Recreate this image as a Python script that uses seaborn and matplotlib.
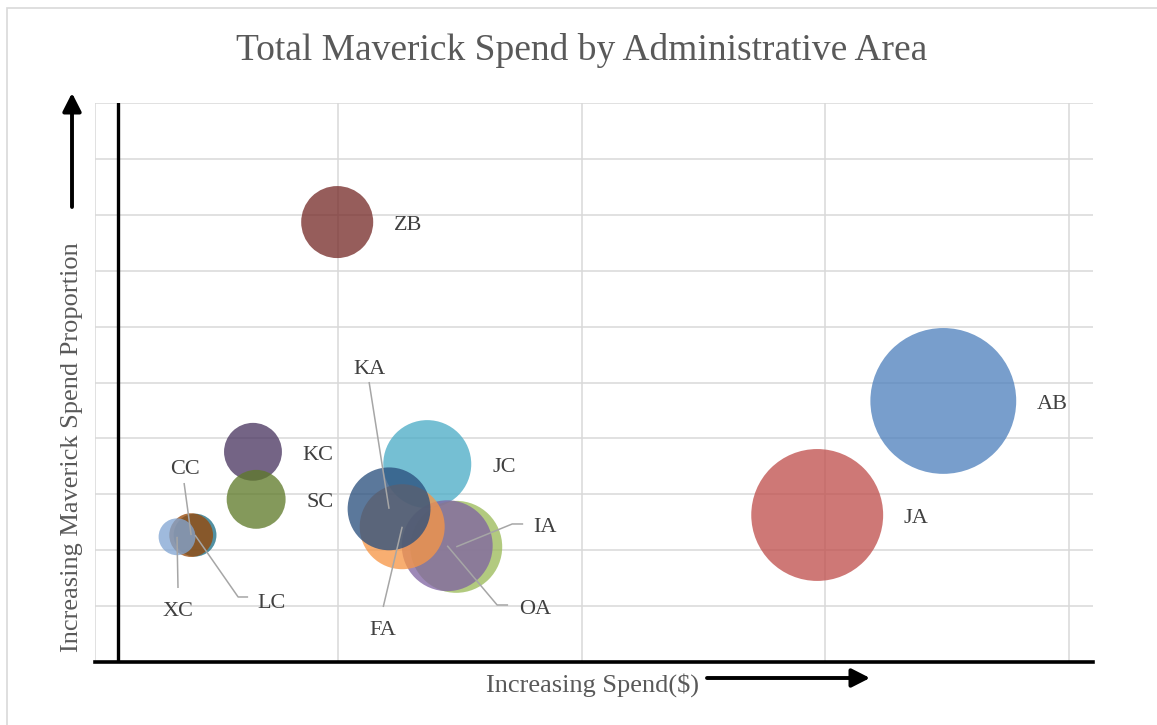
import numpy as np
import pandas as pd
import matplotlib
matplotlib.use("Agg")
import matplotlib.pyplot as plt
import seaborn as sns
from matplotlib.patches import Rectangle, FancyArrowPatch

# ---- data -------------------------------------------------------------
areas = ["AB", "JA", "ZB", "JC", "IA", "OA", "FA", "KA", "KC", "SC", "LC", "CC", "XC"]
spend = [3.485, 2.967, 0.995, 1.365, 1.484, 1.447, 1.262, 1.208, 0.649, 0.662, 0.411, 0.395, 0.337]
maverick_share = [4.67, 2.63, 7.87, 3.54, 2.06, 2.08, 2.42, 2.74, 3.76, 2.91, 2.27, 2.27, 2.24]
maverick_spend = [53.3, 43.6, 13.0, 19.4, 21.2, 20.7, 18.1, 17.2, 8.4, 8.7, 4.6, 4.8, 3.4]
colors = ["#4f81bd", "#c0504d", "#772c2a", "#4bacc6", "#9bbb59", "#8064a2", "#f79646",
          "#2a4f7d", "#4a3660", "#5f7a2a", "#1d6f86", "#984807", "#82a6d3"]

df = pd.DataFrame({"area": areas, "spend": spend, "share": maverick_share,
                   "bubble": maverick_spend})

# ---- style ------------------------------------------------------------
sns.set_theme(style="white")
plt.rcParams["font.family"] = ["Liberation Serif", "DejaVu Serif"]

W, H = 1157, 725
fig = plt.figure(figsize=(W / 100, H / 100), dpi=100)
ax = fig.add_axes([95 / W, (H - 662) / H, (1093 - 95) / W, (662 - 103) / H])

MAX_DIAM_PT = 105.0                      # diameter of the largest bubble
smax = MAX_DIAM_PT ** 2
vmax = max(maverick_spend)

sns.scatterplot(data=df, x="spend", y="share", hue="area",
                palette=dict(zip(areas, colors)), size="bubble",
                sizes=(0, smax), size_norm=(0, vmax), alpha=0.77,
                linewidth=0, legend=False, ax=ax, zorder=3)

ax.set_xlim(0, 4.1)
ax.set_ylim(0, 10)
ax.set_xticks(range(0, 5))
ax.set_yticks(range(0, 11))
ax.grid(True, color="#d9d9d9", lw=1.1)
ax.set_axisbelow(True)
ax.tick_params(length=0, labelleft=False, labelbottom=False)
ax.set_xlabel("")
ax.set_ylabel("")
for side in ("top", "right", "left"):
    ax.spines[side].set_visible(False)
ax.spines["bottom"].set_color("black")
ax.spines["bottom"].set_linewidth(2.6)
ax.axvline(0.095, color="black", lw=2.4, zorder=2)

# ---- data labels --------------------------------------------------------
label_kw = dict(fontsize=16, color="#404040")
BASELINE_SHIFT = -2.5                     # points, nudges caps to optical centre
right_labeled = ["AB", "JA", "ZB", "JC", "KC", "SC"]
for _, row in df.iterrows():
    if row["area"] in right_labeled:
        radius_pt = np.sqrt(row["bubble"] / vmax * smax) / 2
        ax.annotate(row["area"], xy=(row["spend"], row["share"]),
                    xytext=(radius_pt + 15, BASELINE_SHIFT), textcoords="offset points",
                    ha="left", va="center", zorder=5, **label_kw)

callouts = {
    "KA": ((1.126, 5.295), [(1.126, 5.009)]),
    "FA": ((1.184, 0.626), [(1.184, 0.984)]),
    "IA": ((1.850, 2.469), [(1.759, 2.469), (1.714, 2.469)]),
    "OA": ((1.808, 1.002), [(1.697, 1.020), (1.652, 1.020)]),
    "CC": ((0.370, 3.506), [(0.366, 3.202)]),
    "XC": ((0.341, 0.966), [(0.341, 1.324)]),
    "LC": ((0.727, 1.109), [(0.629, 1.163), (0.588, 1.163)]),
}
lookup = df.set_index("area")
for name, (text_pos, path) in callouts.items():
    cx, cy = lookup.loc[name, "spend"], lookup.loc[name, "share"]
    xs = [p[0] for p in path] + [cx]
    ys = [p[1] for p in path] + [cy]
    ax.plot(xs, ys, color="#a6a6a6", lw=1.1, zorder=4, solid_capstyle="butt")
    ax.annotate(name, xy=text_pos, xytext=(0, BASELINE_SHIFT),
                textcoords="offset points", ha="center", va="center",
                zorder=5, **label_kw)

# ---- titles, axis captions and direction arrows --------------------------
fig.text(582 / W, 1 - 51 / H, "Total Maverick Spend by Administrative Area",
         ha="center", va="center", fontsize=27, color="#595959")
fig.text(593 / W, 1 - 685 / H, "Increasing Spend($)",
         ha="center", va="center", fontsize=19, color="#595959")
fig.text(72 / W, 1 - 447 / H, "Increasing Maverick Spend Proportion",
         ha="center", va="center", rotation=90, fontsize=19, color="#595959")


def fig_pt(px, py):
    return (px / W, 1 - py / H)


for tail, tip in [((72, 207), (72, 93)), ((707, 678), (870, 678))]:
    fig.add_artist(FancyArrowPatch(fig_pt(*tail), fig_pt(*tip),
                                   transform=fig.transFigure,
                                   arrowstyle="-|>,head_length=0.55,head_width=0.28",
                                   mutation_scale=20, lw=2.8, color="black",
                                   shrinkA=0, shrinkB=0))

fig.add_artist(Rectangle((7 / W, -0.5), 2, (1 - 8 / H) + 0.5,
                         transform=fig.transFigure, fill=False,
                         ec="#d9d9d9", lw=1.2))

fig.savefig("out.png", dpi=100)
